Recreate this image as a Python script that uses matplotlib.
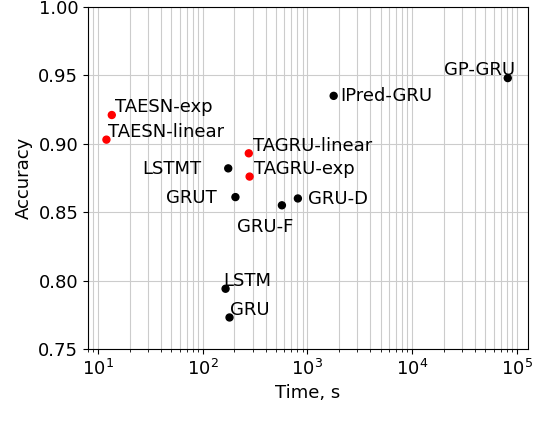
import matplotlib
matplotlib.use("Agg")
import matplotlib.pyplot as plt

names = ["TAESN-exp","TAESN-linear","TAGRU-linear","TAGRU-exp","LSTMT","GRUT","GRU-F","GRU-D","IPred-GRU","GP-GRU","LSTM","GRU"]
times = [13.5,12.0,275,280,175,205,570,810,1780,82000,165,180]
accs = [0.921,0.903,0.893,0.876,0.882,0.861,0.855,0.860,0.935,0.948,0.794,0.773]
colors = ["red","red","red","red","black","black","black","black","black","black","black","black"]
offsets = [(2,2),(1,2),(3,2),(3,2),(-62,-4),(-50,-4),(-32,-19),(7,-4),(5,-4),(-46,2),(-2,2),(0,2)]

fig = plt.figure(figsize=(5.5,4.34), dpi=100)
ax = fig.add_axes([0.16,0.196,0.80,0.788])
ax.set_xscale("log")
ax.set_xlim(8.0,1.28e5)
ax.set_ylim(0.75,1.0)
ax.grid(True, which="both", color="#cccccc", linewidth=0.8)
ax.set_axisbelow(True)
ax.scatter(times, accs, c=colors, s=25, zorder=3)
for n,t,a,o in zip(names,times,accs,offsets):
    ax.annotate(n,(t,a),xytext=o,textcoords="offset points",fontsize=13)
ax.set_xlabel("Time, s", fontsize=13)
ax.set_ylabel("Accuracy", fontsize=13)
ax.tick_params(labelsize=13)
ax.set_yticks([0.75,0.80,0.85,0.90,0.95,1.00])
fig.savefig("out.png")
